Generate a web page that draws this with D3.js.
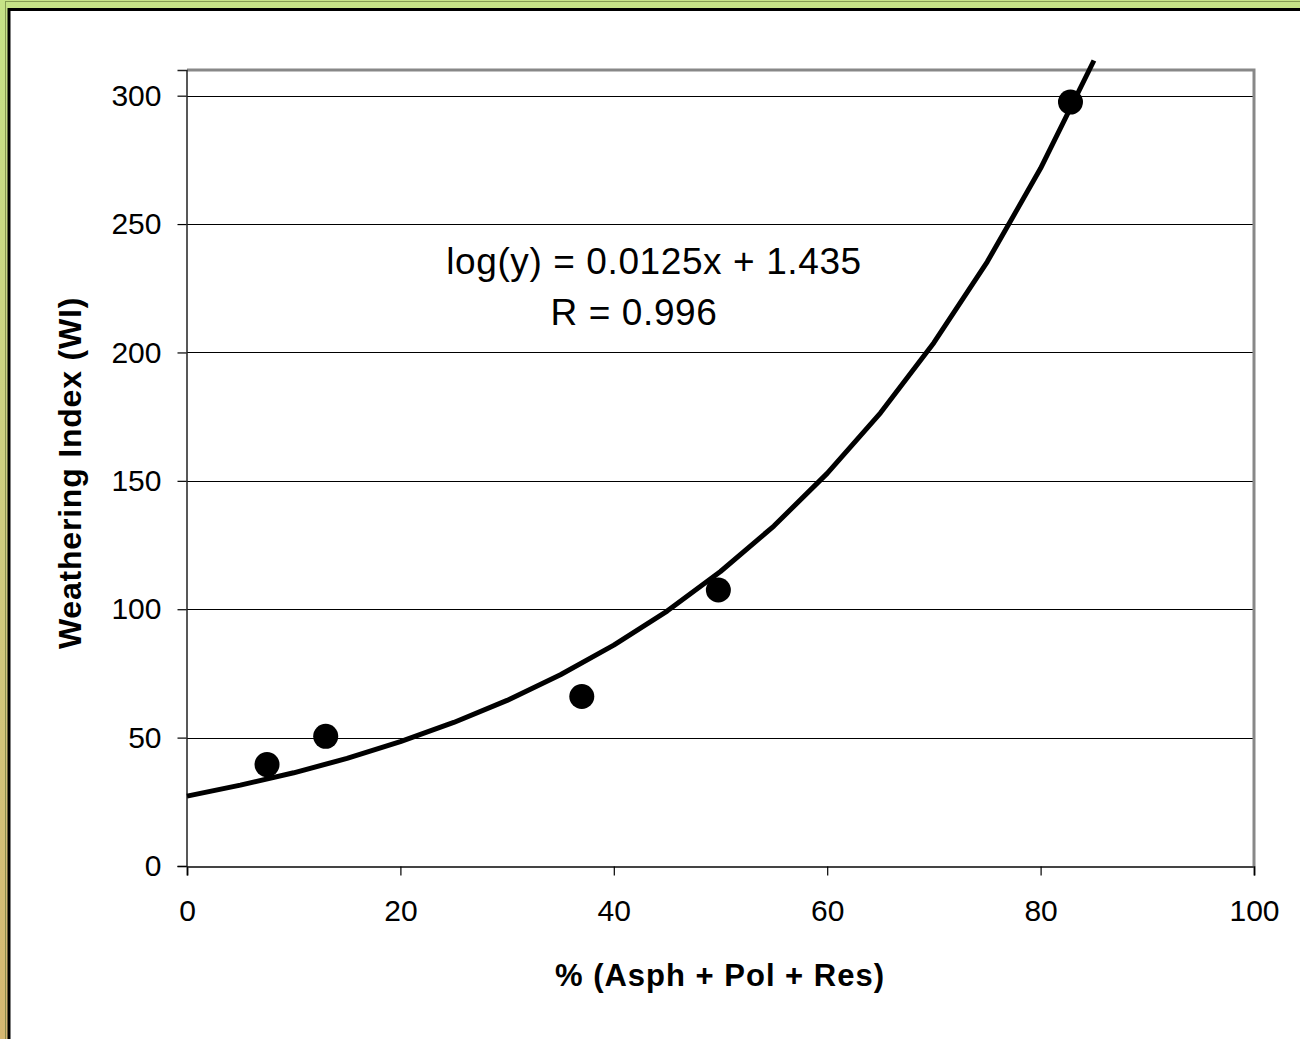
<!DOCTYPE html>
<html>
<head>
<meta charset="utf-8">
<script src="https://cdn.jsdelivr.net/npm/d3@7"></script>
<style>
  html, body { margin: 0; padding: 0; background: #fff; }
  svg { display: block; }
  text { font-family: "Liberation Sans", Arial, sans-serif; }
</style>
</head>
<body>
<svg></svg>
<script>
// Measured points
var pctAPR = [7.5, 13.0, 37.0, 49.8, 82.8];
var weatheringIdx = [39.5, 50.5, 66, 107.5, 297.5];

// Fitted curve
var curveX = [0, 5, 10, 15, 20, 25, 30, 35, 40, 45, 50, 55, 60, 65, 70, 75, 80, 85];
var curveY = [27.2, 31.5, 36.3, 41.9, 48.4, 55.9, 64.5, 74.5, 86.0, 99.3, 114.7, 132.4, 152.9, 176.5, 203.8, 235.3, 271.7, 313.7];

var xTicks = [0, 20, 40, 60, 80, 100];
var yTicks = [0, 50, 100, 150, 200, 250, 300];

var width = 1300, height = 1039;
var plotL = 187, plotR = 1254, plotT = 70, plotB = 866;

var svg = d3.select("svg")
	.attr("width", width)
	.attr("height", height);

// Frame gradient
var defs = svg.append("defs");
var grad = defs.append("linearGradient")
	.attr("id", "frameGrad")
	.attr("x1", 0).attr("y1", 0)
	.attr("x2", 0).attr("y2", 1);
grad.append("stop").attr("offset", "0%").attr("stop-color", "#c6e387");
grad.append("stop").attr("offset", "50%").attr("stop-color", "#cfcd80");
grad.append("stop").attr("offset", "100%").attr("stop-color", "#d6b872");

svg.append("rect")
	.attr("x", 0).attr("y", 0)
	.attr("width", width).attr("height", height)
	.attr("fill", "url(#frameGrad)");

// thin dark line near outer edge
svg.append("rect")
	.attr("x", 5.5).attr("y", 1.5)
	.attr("width", width + 10).attr("height", height + 10)
	.attr("fill", "none")
	.attr("stroke", "#5a6a30")
	.attr("stroke-opacity", 0.6)
	.attr("stroke-width", 1);

// inner white area with black border
svg.append("rect")
	.attr("x", 9).attr("y", 9.5)
	.attr("width", width + 10).attr("height", height + 10)
	.attr("fill", "#fff")
	.attr("stroke", "#000")
	.attr("stroke-width", 3);

var x = d3.scaleLinear().domain([0, 100]).range([plotL, plotR]);
var y = d3.scaleLinear().domain([0, 310]).range([plotB, plotT]);

var g = svg.append("g");

// gridlines
g.selectAll(".grid")
	.data(yTicks.filter(function(d) { return d > 0; }))
	.enter().append("line")
		.attr("class", "grid")
		.attr("x1", plotL).attr("x2", plotR)
		.attr("y1", function(d) { return Math.round(y(d)) + 0.5; })
		.attr("y2", function(d) { return Math.round(y(d)) + 0.5; })
		.attr("stroke", "#000")
		.attr("stroke-width", 1);

// plot border (top/right gray)
g.append("path")
	.attr("d", "M" + plotL + "," + (plotT) + "H" + plotR + "V" + plotB)
	.attr("fill", "none")
	.attr("stroke", "#888")
	.attr("stroke-width", 3);

// axes
var xAxis = d3.axisBottom(x)
	.tickValues(xTicks)
	.tickSize(9)
	.tickPadding(24);
var yAxis = d3.axisLeft(y)
	.tickValues(yTicks)
	.tickSize(9)
	.tickPadding(16);

var gx = g.append("g")
	.attr("transform", "translate(0," + (plotB + 0.5) + ")")
	.call(xAxis);
var gy = g.append("g")
	.attr("transform", "translate(" + (plotL - 0.5) + ",0)")
	.call(yAxis);

[gx, gy].forEach(function(a) {
	a.select(".domain").attr("stroke", "#222").attr("stroke-width", 1.5);
	a.selectAll(".tick line").attr("stroke", "#000").attr("stroke-width", 1.2);
	a.selectAll(".tick text")
		.attr("font-family", "'Liberation Sans', Arial, sans-serif")
		.attr("font-size", "30px")
		.attr("fill", "#000");
});
gx.select(".domain").attr("stroke", "#444").attr("stroke-width", 2);

// fitted curve
var line = d3.line()
	.x(function(d) { return x(d[0]); })
	.y(function(d) { return y(d[1]); });

g.append("path")
	.datum(d3.zip(curveX, curveY))
	.attr("d", line)
	.attr("fill", "none")
	.attr("stroke", "#000")
	.attr("stroke-width", 5)
	.attr("stroke-linejoin", "round");

// points
g.selectAll(".pt")
	.data(d3.zip(pctAPR, weatheringIdx))
	.enter().append("circle")
		.attr("class", "pt")
		.attr("cx", function(d) { return x(d[0]); })
		.attr("cy", function(d) { return y(d[1]); })
		.attr("r", 12.5)
		.attr("fill", "#000");

// equation
g.append("text")
	.attr("x", 654).attr("y", 274)
	.attr("text-anchor", "middle")
	.attr("font-size", "37px")
	.attr("letter-spacing", "0.6px")
	.attr("xml:space", "preserve")
	.style("white-space", "pre")
	.text("log(y) = 0.0125x + 1.435");

g.append("text")
	.attr("x", 634).attr("y", 325)
	.attr("text-anchor", "middle")
	.attr("font-size", "37px")
	.attr("letter-spacing", "0.6px")
	.text("R = 0.996");

// axis titles
g.append("text")
	.attr("x", 720).attr("y", 986)
	.attr("text-anchor", "middle")
	.attr("font-size", "31px")
	.attr("letter-spacing", "1px")
	.attr("font-weight", "bold")
	.text("% (Asph + Pol + Res)");

g.append("text")
	.attr("transform", "translate(81," + ((plotT + plotB) / 2 + 5) + ") rotate(-90)")
	.attr("text-anchor", "middle")
	.attr("font-size", "32px")
	.attr("letter-spacing", "0.8px")
	.attr("font-weight", "bold")
	.text("Weathering Index (WI)");
</script>
</body>
</html>
